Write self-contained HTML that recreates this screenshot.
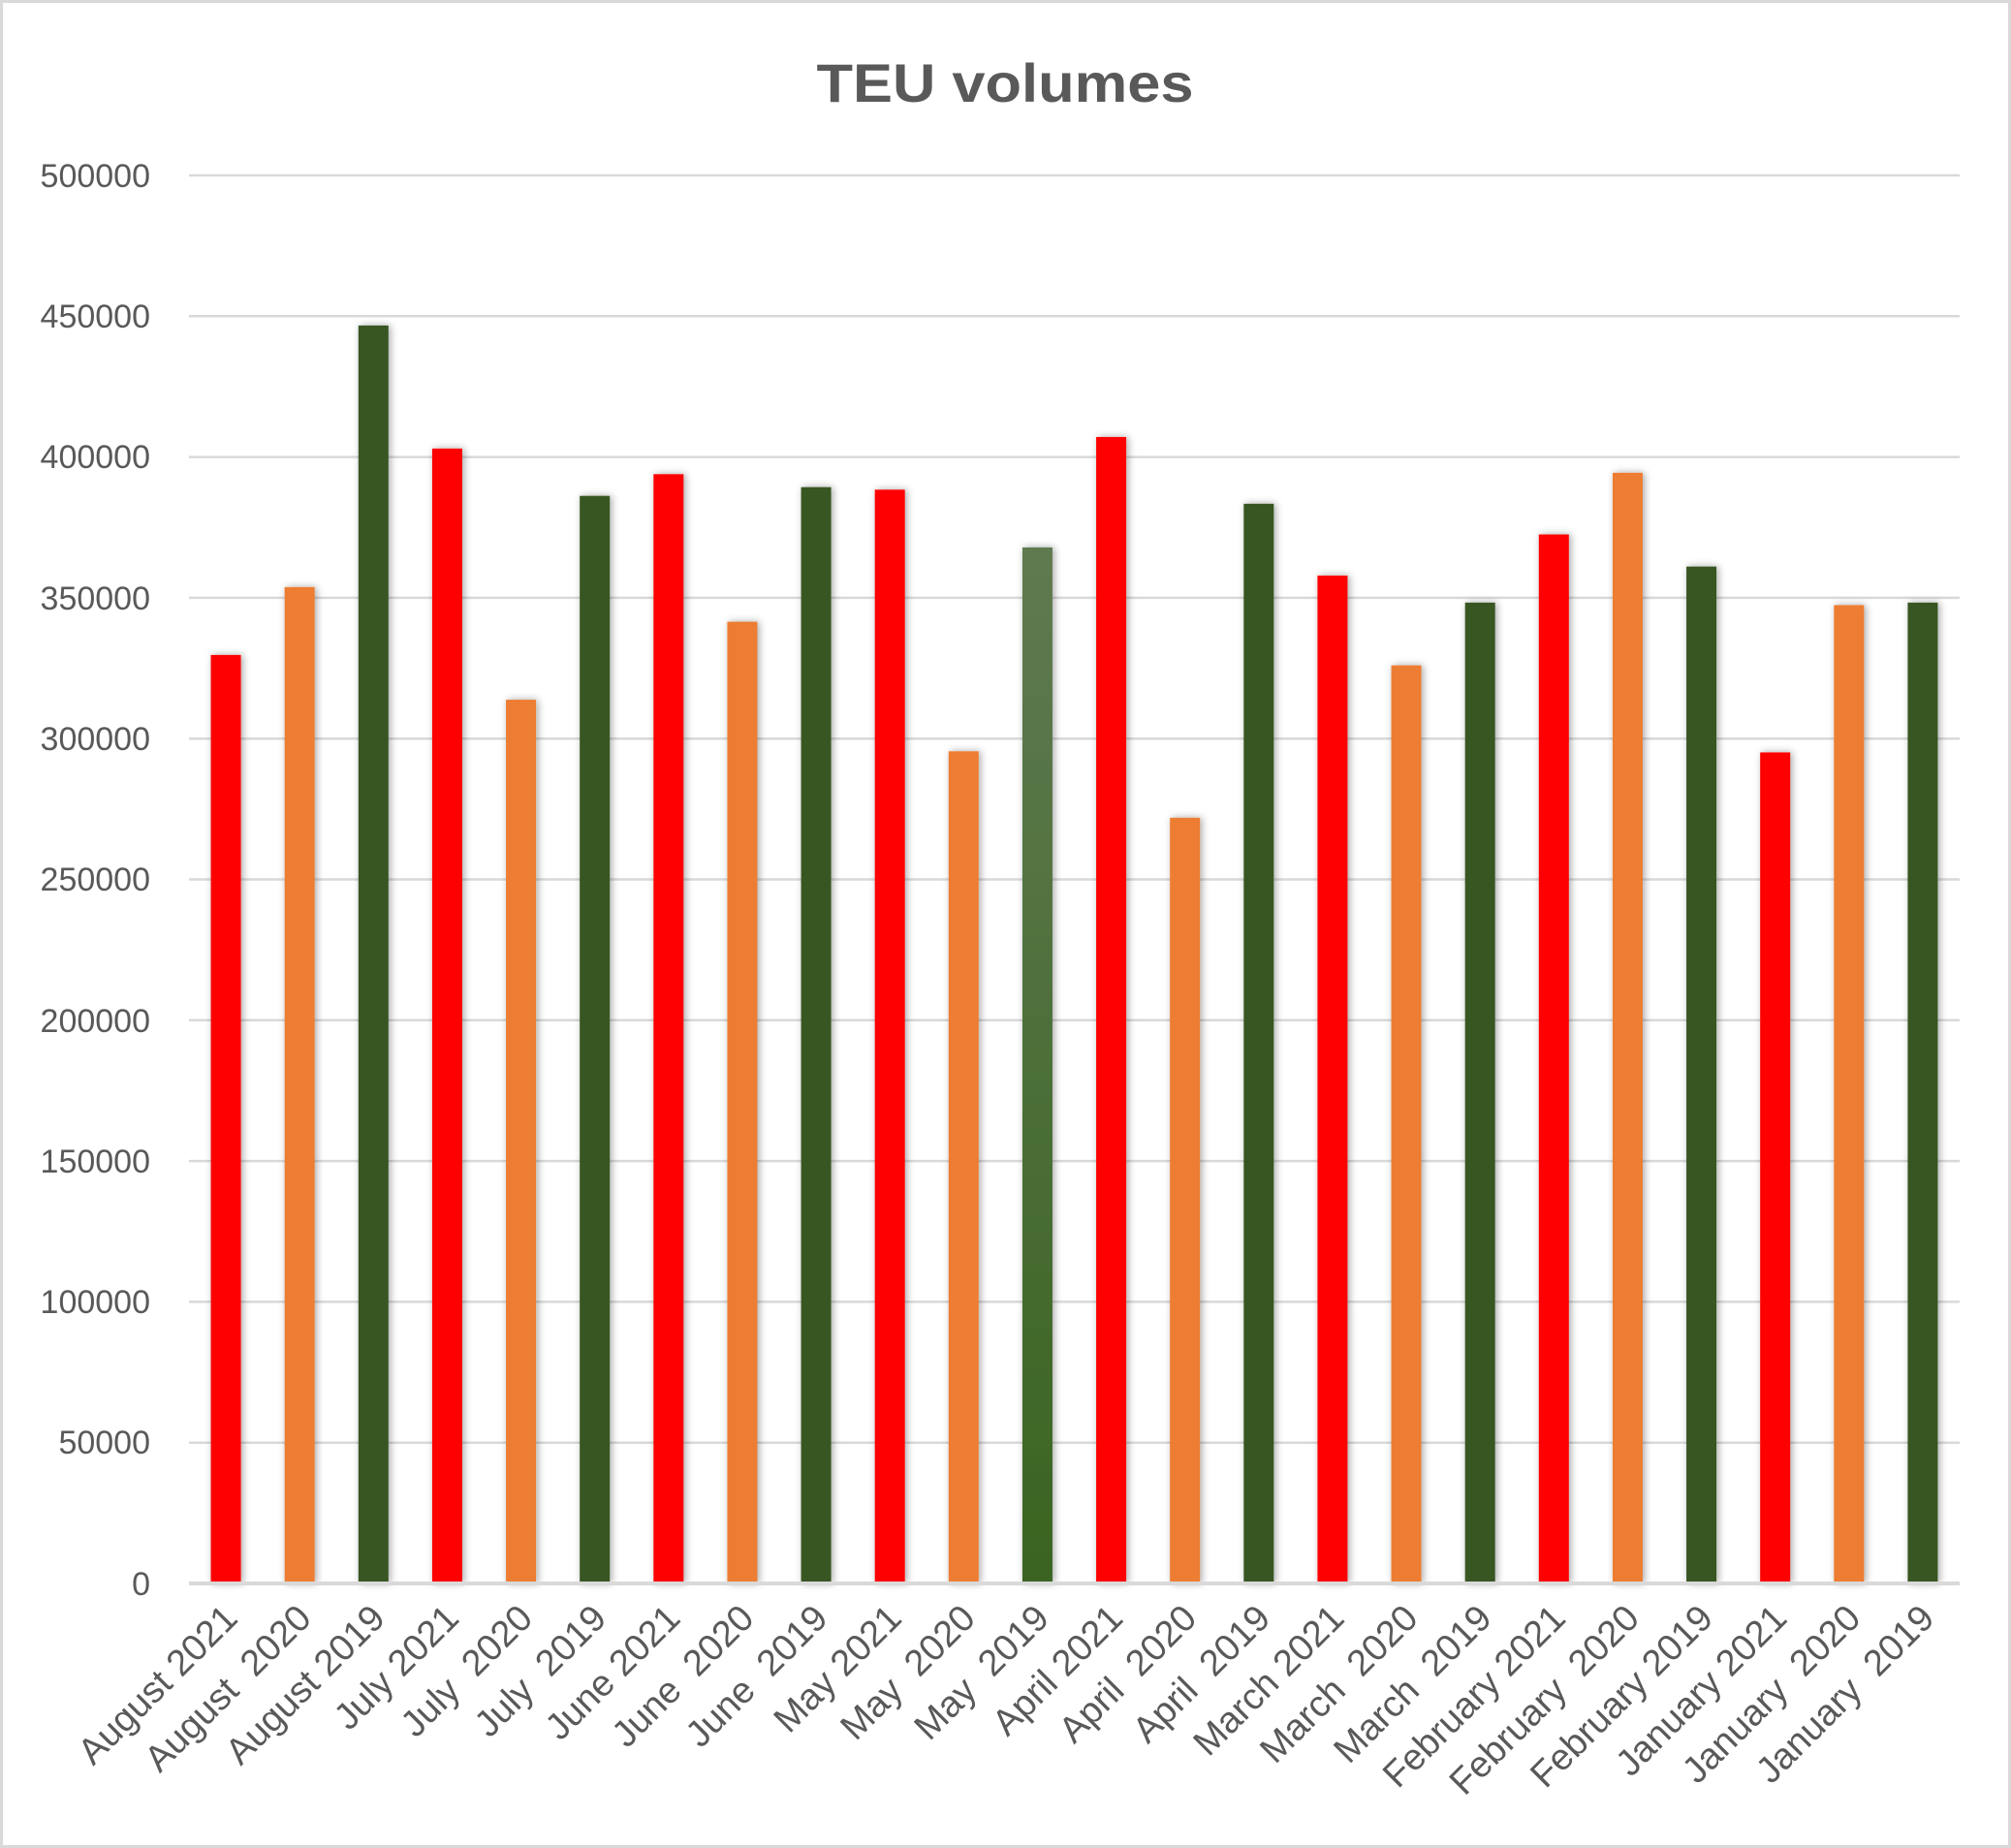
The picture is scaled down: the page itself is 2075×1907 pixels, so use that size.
<!DOCTYPE html>
<html><head><meta charset="utf-8"><style>
html,body{margin:0;padding:0;background:#fff}
svg{display:block}
text{font-family:"Liberation Sans",sans-serif;fill:#595959}
</style></head><body>
<svg width="2075" height="1907" viewBox="0 0 2075 1907" xmlns="http://www.w3.org/2000/svg">
<defs>
<filter id="sh" x="-50%" y="-5%" width="200%" height="110%"><feDropShadow dx="2" dy="0" stdDeviation="4" flood-color="#000" flood-opacity="0.35"/></filter>
<linearGradient id="g1" x1="0" y1="0" x2="0" y2="1"><stop offset="0" stop-color="#5f7a50"/><stop offset="1" stop-color="#3a6421"/></linearGradient>
</defs>
<rect x="1.5" y="1.5" width="2072" height="1904" fill="#fff" stroke="#d9d9d9" stroke-width="3"/>
<text x="1037" y="105" text-anchor="middle" font-size="56" font-weight="bold" textLength="389" lengthAdjust="spacingAndGlyphs">TEU volumes</text>
<g stroke="#d9d9d9" stroke-width="2.5">
<line x1="195" y1="181" x2="2022" y2="181"/><line x1="195" y1="326.3" x2="2022" y2="326.3"/><line x1="195" y1="471.6" x2="2022" y2="471.6"/><line x1="195" y1="616.9" x2="2022" y2="616.9"/><line x1="195" y1="762.2" x2="2022" y2="762.2"/><line x1="195" y1="907.5" x2="2022" y2="907.5"/><line x1="195" y1="1052.8" x2="2022" y2="1052.8"/><line x1="195" y1="1198.1" x2="2022" y2="1198.1"/><line x1="195" y1="1343.4" x2="2022" y2="1343.4"/><line x1="195" y1="1488.7" x2="2022" y2="1488.7"/>
</g>
<g font-size="34" text-anchor="end">
<text x="155" y="193">500000</text><text x="155" y="338">450000</text><text x="155" y="483">400000</text><text x="155" y="629">350000</text><text x="155" y="774">300000</text><text x="155" y="919">250000</text><text x="155" y="1065">200000</text><text x="155" y="1210">150000</text><text x="155" y="1355">100000</text><text x="155" y="1500">50000</text><text x="155" y="1646">0</text>
</g>
<g id="bars" filter="url(#sh)"></g>
<line x1="195" y1="1634" x2="2022" y2="1634" stroke="#d9d9d9" stroke-width="4"/>
<g id="labels" font-size="38" text-anchor="end"></g>
<script>
var d=[["August 2021",329700,"r"],["August  2020",353800,"o"],["August 2019",446700,"g"],["July 2021",403000,"r"],["July  2020",313800,"o"],["July  2019",386200,"g"],["June 2021",393900,"r"],["June  2020",341500,"o"],["June  2019",389300,"g"],["May 2021",388400,"r"],["May  2020",295500,"o"],["May  2019",367900,"m"],["April 2021",407100,"r"],["April  2020",271900,"o"],["April  2019",383400,"g"],["March 2021",357900,"r"],["March  2020",326000,"o"],["March  2019",348300,"g"],["February 2021",372500,"r"],["February  2020",394400,"o"],["February 2019",361100,"g"],["January 2021",295100,"r"],["January  2020",347400,"o"],["January  2019",348300,"g"]];
var col={r:"#ff0000",o:"#ed7d31",g:"#375623",m:"url(#g1)"};
var ns="http://www.w3.org/2000/svg",B=document.getElementById("bars"),L=document.getElementById("labels");
d.forEach(function(e,i){var cx=195+76.125*(i+0.5),h=e[1]/500000*1453,r=document.createElementNS(ns,"rect");
r.setAttribute("x",cx-15.5);r.setAttribute("y",1634-h);r.setAttribute("width",31);r.setAttribute("height",h);r.setAttribute("fill",col[e[2]]);B.appendChild(r);
var t=document.createElementNS(ns,"text");t.setAttribute("transform","translate("+(cx+14)+",1672) rotate(-45)");t.setAttribute("xml:space","preserve");t.style.whiteSpace="pre";t.textContent=e[0];L.appendChild(t);});
</script>
</svg>
</body></html>
